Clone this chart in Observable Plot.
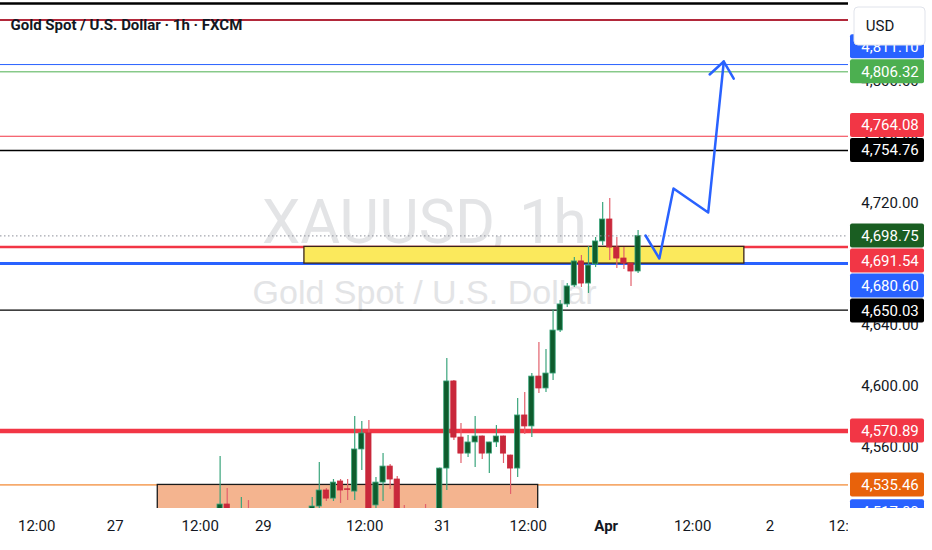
<!DOCTYPE html>
<html>
<head>
<meta charset="utf-8">
<script src="https://cdn.jsdelivr.net/npm/d3@7"></script>
<script src="https://cdn.jsdelivr.net/npm/@observablehq/plot@0.6"></script>
<style>
  body { margin: 0; background: #fff; }
  #chart svg { display: block; }
</style>
</head>
<body>
<div id="chart"></div>
<script>
// hourly candles, first one sits at bar index 31
const firstIndex = 31;
const opens = [4514, 4522.6, 4514, 4510, 4515, 4509, 4504, 4508, 4502, 4506,
  4511, 4507, 4512, 4514, 4521.3, 4531.8, 4526.5, 4537.7, 4532.6, 4531.1,
  4558.7, 4569.2, 4522.0, 4537.0, 4547.5, 4539.0, 4516, 4509, 4513, 4508,
  4503, 4512, 4546.2, 4603.3, 4566.5, 4556.0, 4563.3, 4567.2, 4556.0, 4563.3,
  4567.2, 4554.7, 4546.2, 4581.0, 4573.8, 4606.5, 4598.7, 4608.5, 4636.7, 4653.8,
  4666.2, 4682.0, 4667.5, 4680.0, 4695.1, 4709.5, 4691.1, 4683.9, 4680.6, 4675.4];
const highs = [4554.1, 4533.1, 4518, 4527.2, 4525.2, 4516, 4512, 4515, 4510, 4514,
  4517, 4515, 4518, 4527.2, 4550.1, 4533.1, 4539.0, 4539.0, 4539.0, 4580.3,
  4577.0, 4577.7, 4540.3, 4556.0, 4548.8, 4541.0, 4522.0, 4517, 4518, 4522.6,
  4514, 4546.5, 4618.3, 4603.9, 4575.7, 4567.9, 4580.3, 4567.6, 4563.5, 4574.4,
  4567.5, 4555.0, 4592.1, 4596.0, 4608.5, 4628.8, 4624.2, 4650.5, 4656.4, 4667.5,
  4684.6, 4685.9, 4691.8, 4697.7, 4720.6, 4723.3, 4697.7, 4691.1, 4680.8, 4702.3];
const lows = [4510, 4508, 4505, 4504, 4506, 4500, 4496, 4499, 4494, 4500,
  4503, 4501, 4506, 4508, 4518, 4524.6, 4524.6, 4523.3, 4525.2, 4525.2,
  4544.9, 4514, 4519, 4524.6, 4532.4, 4510, 4505, 4502, 4504, 4499,
  4498, 4508, 4531.8, 4564.6, 4549.5, 4553.4, 4546.9, 4552.1, 4542.9, 4560.0,
  4549.5, 4529.2, 4540.3, 4568.5, 4566.5, 4595.4, 4596.0, 4604.0, 4635.4, 4651.8,
  4664.9, 4664.9, 4661.0, 4678.0, 4692.4, 4682.6, 4677.4, 4676.7, 4665.6, 4674.1];
const closes = [4522.6, 4514, 4510, 4515, 4509, 4504, 4508, 4502, 4506, 4511,
  4507, 4512, 4514, 4521.3, 4531.8, 4526.5, 4537.0, 4531.8, 4532.2, 4558.7,
  4569.2, 4519, 4537.0, 4547.5, 4539.0, 4516, 4509, 4513, 4508, 4503,
  4512, 4546.2, 4603.3, 4566.5, 4556.0, 4563.3, 4567.2, 4556.0, 4563.3, 4567.2,
  4556.0, 4546.2, 4581.0, 4573.8, 4606.5, 4598.7, 4608.5, 4636.7, 4653.8, 4665.6,
  4682.0, 4667.5, 4679.3, 4695.1, 4709.5, 4691.1, 4683.9, 4680.6, 4675.4, 4698.75];

// horizontal levels drawn on the chart
const levelPrices = [4851.1, 4840.3, 4811.1, 4806.32, 4764.08, 4754.76, 4691.54, 4680.60, 4650.03, 4570.89, 4535.46, 4517.80];
const levelKinds = ["blackTop", "maroon", "blueThin", "green", "redThin", "black", "red", "blue", "black", "redBold", "orange", "blue"];
const currentPrice = 4698.75;

// rectangles (zones)
const zoneStart = [22.2, 42.9];
const zoneEnd = [75.9, 105.0];
const zoneTop = [4535.46, 4691.54];
const zoneBottom = [4500, 4680.60];
const zoneKinds = ["demand", "range"];

// projected path
const pathIndex = [91.05, 93.0, 95.0, 99.9, 102.1];
const pathPrice = [4699.0, 4683.9, 4729.8, 4714.1, 4813.1];
const headIndex = [100.1, 102.1, 103.5];
const headPrice = [4804.6, 4813.1, 4801.9];

// axes
const priceTicks = [4560, 4600, 4640, 4680, 4720, 4760, 4800];
const timeTickIndex = [5.1, 16.2, 28.2, 37.1, 51.4, 62.4, 74.5, 85.5, 97.7, 108.6, 119.5];
const timeTickLabels = ["12:00", "27", "12:00", "29", "12:00", "31", "12:00", "Apr", "12:00", "2", "12:00"];

const candles = opens.map((o, k) => ({
  i: firstIndex + k, open: o, high: highs[k], low: lows[k], close: closes[k]
}));
const levels = levelPrices.map((p, k) => ({price: p, kind: levelKinds[k]}));
const zones = zoneStart.map((s, k) => ({x1: s, x2: zoneEnd[k], y1: zoneBottom[k], y2: zoneTop[k], kind: zoneKinds[k]}));
const path = pathIndex.map((x, k) => ({x, y: pathPrice[k]}));
const head = headIndex.map((x, k) => ({x, y: headPrice[k]}));
const timeTicks = timeTickIndex.map((x, k) => ({x, label: timeTickLabels[k]}));

const levelStyle = {
  blackTop: {stroke: "#000000", width: 2.5, tag: null},
  maroon: {stroke: "#b2283a", width: 2, tag: null},
  blueThin: {stroke: "#2962ff", width: 1, tag: "#2962ff"},
  green: {stroke: "#4caf50", width: 1, tag: "#4caf50"},
  redThin: {stroke: "#f23645", width: 1, tag: "#f23645"},
  black: {stroke: "#000000", width: 1.3, tag: "#000000"},
  red: {stroke: "#f23645", width: 2.5, tag: "#f23645"},
  blue: {stroke: "#2962ff", width: 3, tag: "#2962ff"},
  redBold: {stroke: "#f23645", width: 4.5, tag: "#f23645"},
  orange: {stroke: "#ef6c00", width: 1, tag: "#e8620b"}
};
const zoneStyle = {
  demand: {fill: "#f4b48f", stroke: "#1a1a1a"},
  range: {fill: "#fbe95c", stroke: "#3b2418"}
};
const upBody = "#0e5c2d", upLine = "#3aa57c";
const downBody = "#c9283b", downLine = "#e2606c";
const fmt = d3.format(",.2f");

function priceScale(index, scales, values, dims) {
  const y = scales.y;
  const left = dims.width - dims.marginRight;
  const bottom = dims.height - dims.marginBottom;
  const cx = left + 42;
  const g = d3.create("svg:g")
    .attr("font-family", "Roboto, sans-serif")
    .attr("font-size", 15);
  g.append("rect")
    .attr("x", left).attr("y", 0)
    .attr("width", dims.marginRight).attr("height", dims.height)
    .attr("fill", "#fff");
  g.append("clipPath").attr("id", "price-clip")
    .append("rect")
    .attr("x", left).attr("y", 0)
    .attr("width", dims.marginRight).attr("height", bottom);
  const inner = g.append("g").attr("clip-path", "url(#price-clip)");

  inner.selectAll("text.tick").data(priceTicks).join("text")
    .attr("class", "tick")
    .attr("x", cx).attr("y", (d) => y(d)).attr("dy", "0.36em")
    .attr("text-anchor", "middle").attr("fill", "#131722")
    .text(fmt);

  // price tags, pushed apart so they don't overlap (current price stays put)
  let tags = levels
    .filter((d) => levelStyle[d.kind].tag)
    .map((d) => ({price: d.price, color: levelStyle[d.kind].tag, pinned: false}));
  tags.push({price: currentPrice, color: "#1a5e22", pinned: true});
  tags.forEach((d) => (d.py = y(d.price)));
  const sorted = tags.slice().sort((a, b) => a.py - b.py);
  const p = sorted.findIndex((d) => d.pinned);
  const h = 25;
  for (let k = p - 1; k >= 0; k--) sorted[k].py = Math.min(sorted[k].py, sorted[k + 1].py - h);
  for (let k = p + 1; k < sorted.length; k++) sorted[k].py = Math.max(sorted[k].py, sorted[k - 1].py + h);

  const tag = inner.selectAll("g.tag").data(tags).join("g").attr("class", "tag");
  tag.append("rect")
    .attr("x", left + 2).attr("y", (d) => d.py - 12)
    .attr("width", 74).attr("height", 24).attr("rx", 2)
    .attr("fill", (d) => d.color);
  tag.append("text")
    .attr("x", cx).attr("y", (d) => d.py).attr("dy", "0.36em")
    .attr("text-anchor", "middle").attr("fill", "#fff")
    .text((d) => fmt(d.price));

  g.append("rect")
    .attr("x", left + 6).attr("y", 7)
    .attr("width", 71).attr("height", 38).attr("rx", 4)
    .attr("fill", "#fff").attr("stroke", "#e0e3eb");
  g.append("text")
    .attr("x", left + 32).attr("y", 26).attr("dy", "0.36em")
    .attr("text-anchor", "middle").attr("fill", "#131722")
    .text("USD");
  return g.node();
}

const chart = Plot.plot({
  width: 932,
  height: 550,
  marginTop: 0,
  marginRight: 84,
  marginBottom: 42,
  marginLeft: 0,
  x: {domain: [0, 119.7], axis: null},
  y: {domain: [4520, 4853.1], axis: null},
  color: {type: "identity"},
  style: {fontFamily: "Roboto, sans-serif", background: "#fff"},
  marks: [
    Plot.text(["XAUUSD, 1h"], {
      text: (d) => d, frameAnchor: "middle", dy: -31,
      fontFamily: "Roboto", fontSize: 61, fill: "#e3e4e6"
    }),
    Plot.text(["Gold Spot / U.S. Dollar"], {
      text: (d) => d, frameAnchor: "middle", dy: 39,
      fontFamily: "Liberation Sans", fontSize: 34, fill: "#e3e4e6"
    }),
    Plot.ruleY(levels, {
      y: "price",
      stroke: (d) => levelStyle[d.kind].stroke,
      strokeWidth: (d) => levelStyle[d.kind].width,
      clip: true
    }),
    Plot.rect(zones, {
      x1: "x1", x2: "x2", y1: "y1", y2: "y2",
      fill: (d) => zoneStyle[d.kind].fill,
      stroke: (d) => zoneStyle[d.kind].stroke,
      strokeWidth: 1.3,
      clip: true
    }),
    Plot.ruleX(candles, {
      x: "i", y1: "low", y2: "high",
      stroke: (d) => (d.close >= d.open ? upLine : downLine),
      strokeWidth: 1.2,
      clip: true
    }),
    Plot.rect(candles, {
      x1: (d) => d.i - 0.37, x2: (d) => d.i + 0.37,
      y1: "open", y2: "close",
      fill: (d) => (d.close >= d.open ? upBody : downBody),
      stroke: (d) => (d.close >= d.open ? upLine : downBody),
      strokeWidth: 0.8,
      clip: true
    }),
    Plot.ruleY([currentPrice], {stroke: "#8d909a", strokeDasharray: "1.5,2.5", strokeWidth: 1}),
    Plot.line(path, {x: "x", y: "y", stroke: "#2962ff", strokeWidth: 2.5}),
    Plot.line(head, {x: "x", y: "y", stroke: "#2962ff", strokeWidth: 2.5}),
    Plot.text(["Gold Spot / U.S. Dollar · 1h · FXCM"], {
      text: (d) => d, frameAnchor: "top-left", dx: 10, dy: 25,
      textAnchor: "start", lineAnchor: "middle",
      fontSize: 15, fontWeight: "bold", fill: "#131722"
    }),
    Plot.text(timeTicks.filter((d) => d.label !== "Apr"), {
      x: "x", text: "label", frameAnchor: "bottom", dy: 22,
      fontSize: 15, fill: "#131722"
    }),
    Plot.text(timeTicks.filter((d) => d.label === "Apr"), {
      x: "x", text: "label", frameAnchor: "bottom", dy: 22,
      fontSize: 15, fontWeight: "bold", fill: "#131722"
    }),
    priceScale
  ]
});

document.getElementById("chart").appendChild(chart);
</script>
</body>
</html>
